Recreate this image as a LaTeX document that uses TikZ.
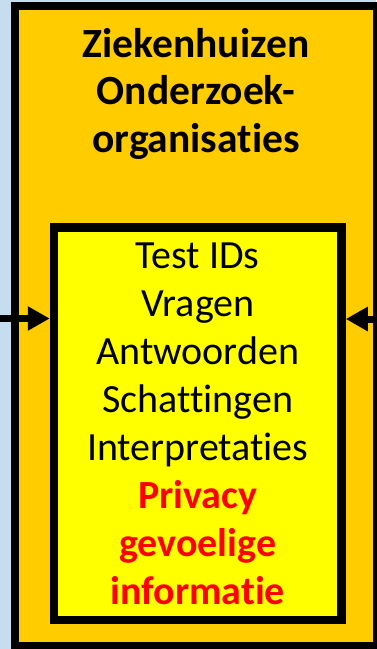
\documentclass[tikz,border=0pt]{standalone}
\usepackage{fontspec}
\setmainfont{Carlito}[Ligatures={NoCommon}]
\usetikzlibrary{arrows.meta}
\definecolor{bgblue}{RGB}{197,221,238}
\definecolor{boxorange}{RGB}{255,204,0}
\definecolor{boxyellow}{RGB}{255,255,0}
\definecolor{privred}{RGB}{255,0,0}
\tikzset{
  outerbox/.style={draw=black, fill=boxorange, line width=8pt, inner sep=0pt},
  innerbox/.style={draw=black, fill=boxyellow, line width=8.5pt, inner sep=0pt},
  titletext/.style={align=center, inner sep=0pt, anchor=base, font=\fontsize{41.5}{47.5}\selectfont\bfseries},
  bodytext/.style={align=center, inner sep=0pt, anchor=base, font=\fontsize{40}{48}\selectfont},
  flow/.style={line width=7pt, -{Triangle[length=22pt,width=23pt]}}
}
\begin{document}
\begin{tikzpicture}[x=1pt,y=-1pt]
\useasboundingbox (0,0) rectangle (376,649);
\fill[bgblue] (0,0) rectangle (376,649);
\node[outerbox, minimum width=362pt, minimum height=640pt] (outer) at (196,326) {};
\node[innerbox, minimum width=287.5pt, minimum height=392.5pt] (inner) at (197.75,423.75) {};
\node[titletext] (title) at (196,152) {Ziekenhuizen\\Onderzoek-\\organisaties};
\node[bodytext] (items) at (197.75,604) {Test IDs\\Vragen\\Antwoorden\\Schattingen\\Interpretaties\\{\bfseries\color{privred}Privacy}\\{\bfseries\color{privred}gevoelige}\\{\bfseries\color{privred}informatie}};
\coordinate (lin) at (0,318.5);
\coordinate (rin) at (376,319);
\draw[flow] (lin) -- (lin -| inner.west);
\draw[flow] (rin) -- (rin -| inner.east);
\end{tikzpicture}
\end{document}
